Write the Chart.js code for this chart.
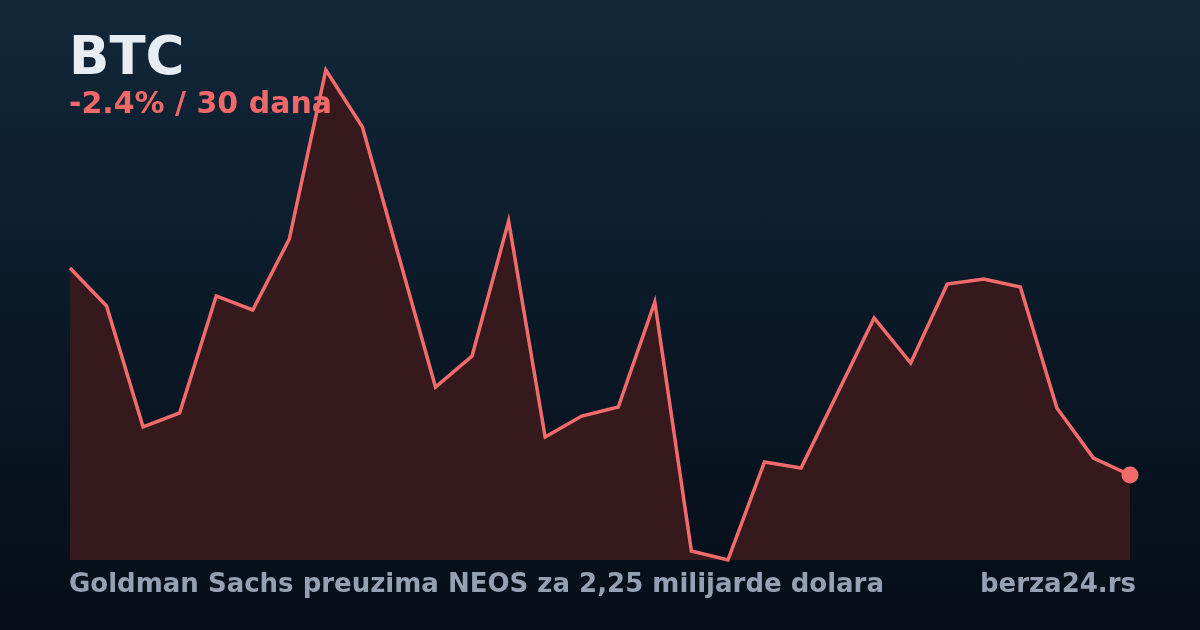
<!DOCTYPE html>
<html lang="sr">
<head>
<meta charset="UTF-8">
<title>BTC</title>
<script src="https://cdn.jsdelivr.net/npm/chart.js"></script>
<style>
    html, body {
        margin: 0;
        padding: 0;
    }
    body {
        width: 1200px;
        height: 630px;
        overflow: hidden;
        font-family: "DejaVu Sans", sans-serif;
        font-weight: bold;
    }
    .card {
        position: relative;
        width: 1200px;
        height: 630px;
        background: linear-gradient(to bottom, #11273a 0%, #0a1826 55%, #060d18 100%);
    }
    canvas {
        position: absolute;
        left: 0;
        top: 0;
    }
    .title {
        position: absolute;
        left: 69px;
        top: 29px;
        font-size: 53px;
        color: #e8ecf3;
        line-height: 1;
    }
    .change {
        position: absolute;
        left: 69px;
        top: 88px;
        font-size: 30px;
        color: #f06868;
        line-height: 1;
    }
    .footer {
        position: absolute;
        top: 570px;
        font-size: 26px;
        color: #94a0b4;
        line-height: 1;
    }
    .headline { left: 69px; }
    .site { right: 64px; }
</style>
</head>
<body>
<div class="card">
    <canvas id="btcChart" width="1200" height="630"></canvas>
    <div class="title">BTC</div>
    <div class="change">-2.4% / 30 dana</div>
    <div class="footer headline">Goldman Sachs preuzima NEOS za 2,25 milijarde dolara</div>
    <div class="footer site">berza24.rs</div>
</div>

<script>
    // 30 dnevnih cena (USD)
    const days = ["1","2","3","4","5","6","7","8","9","10","11","12","13","14","15",
                  "16","17","18","19","20","21","22","23","24","25","26","27","28","29","30"];
    const prices = [105004, 104541, 103069, 103239, 104663, 104493, 105357, 107413, 106720, 105138,
                    103555, 103933, 105576, 102947, 103202, 103312, 104590, 101560, 101450, 102643,
                    102570, 103482, 104395, 103847, 104809, 104870, 104772, 103300, 102691, 102484];

    const lineColor = "#f26b6b";
    const lastIndex = prices.length - 1;

    new Chart(document.getElementById("btcChart"), {
        type: "line",
        data: {
            labels: days,
            datasets: [{
                data: prices,
                borderColor: lineColor,
                borderWidth: 3.5,
                backgroundColor: "#35191c",
                fill: "start",
                tension: 0,
                clip: false,
                pointRadius: ctx => ctx.dataIndex === lastIndex ? 8.5 : 0,
                pointBackgroundColor: lineColor,
                pointBorderWidth: 0
            }]
        },
        options: {
            responsive: false,
            animation: false,
            layout: {
                padding: { left: 70, right: 70, top: 70, bottom: 70 }
            },
            plugins: {
                legend: { display: false },
                tooltip: { enabled: false }
            },
            scales: {
                x: { display: false, offset: false },
                y: {
                    display: false,
                    min: Math.min(...prices),
                    max: Math.max(...prices)
                }
            }
        }
    });
</script>
</body>
</html>
